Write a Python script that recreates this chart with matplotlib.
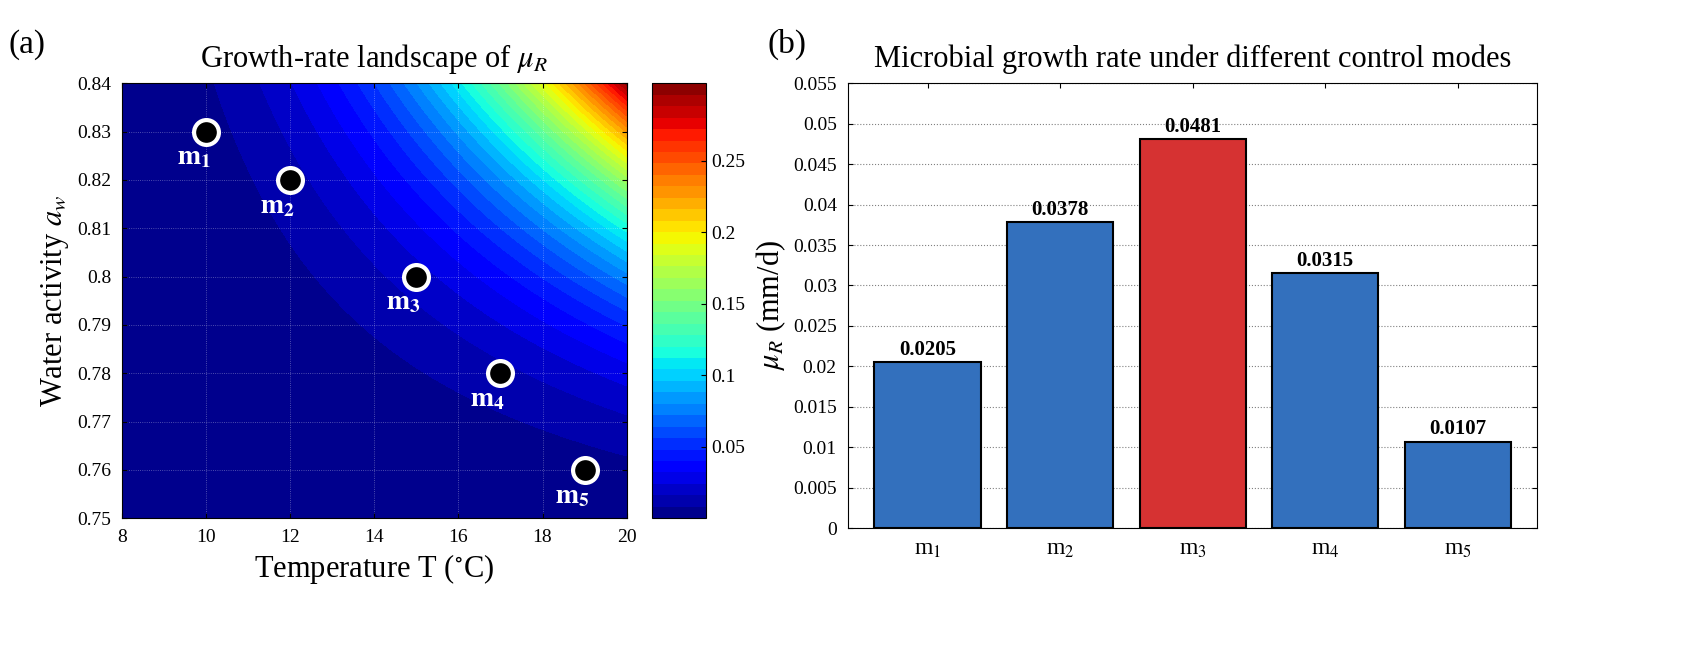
import numpy as np
import matplotlib
matplotlib.use("Agg")
import matplotlib.pyplot as plt

plt.rcParams['font.family'] = ['Liberation Serif', 'DejaVu Serif']
plt.rcParams['mathtext.fontset'] = 'stix'

# operating points
point_T = [10, 12, 15, 17, 19]
point_aw = [0.83, 0.82, 0.80, 0.78, 0.76]
modes = ['m$_1$', 'm$_2$', 'm$_3$', 'm$_4$', 'm$_5$']
growth = [0.0205, 0.0378, 0.0481, 0.0315, 0.0107]
bar_colors = ['#3370bd', '#3370bd', '#d63232', '#3370bd', '#3370bd']

# growth-rate surface
T = np.linspace(8, 20, 300)
aw = np.linspace(0.75, 0.84, 300)
TT, AA = np.meshgrid(T, aw)
mu = 0.082 * ((TT - 6) * (AA - 0.73)) ** 3

fig = plt.figure(figsize=(16.98, 6.56), dpi=100)
ax1 = fig.add_axes([0.072, 0.210, 0.297, 0.663])
cax = fig.add_axes([0.384, 0.210, 0.032, 0.663])
ax2 = fig.add_axes([0.4994, 0.195, 0.406, 0.678])

cs = ax1.contourf(TT, AA, mu, levels=45, cmap='jet')
ax1.grid(True, color='white', linestyle=':', linewidth=0.6, alpha=0.4)
ax1.scatter(point_T, point_aw, s=320, c='black', edgecolors='white', linewidths=3, zorder=5)
for t, a, i in zip(point_T, point_aw, range(1, 6)):
    ax1.text(t - 0.3, a - 0.0055, '$\\mathbf{m}_{\\mathbf{%d}}$' % i, color='white', fontsize=20,
             ha='center', va='center', zorder=6)
ax1.set_xlim(8, 20)
ax1.set_ylim(0.75, 0.84)
ax1.set_xticks(np.arange(8, 21, 2))
ax1.set_yticks(np.arange(0.75, 0.8401, 0.01))
ax1.set_yticklabels(['0.75', '0.76', '0.77', '0.78', '0.79', '0.8', '0.81', '0.82', '0.83', '0.84'])
ax1.tick_params(labelsize=14, direction='in', top=True, right=True, pad=8)
ax1.set_xlabel('Temperature T ($^{\\circ}$C)', fontsize=22)
ax1.set_ylabel('Water activity $a_w$', fontsize=22)
ax1.set_title('Growth-rate landscape of $\\mu_R$', fontsize=22, pad=12)
fig.text(0.005, 0.92, '(a)', fontsize=24)

cb = fig.colorbar(cs, cax=cax)
cb.set_ticks([0.05, 0.1, 0.15, 0.2, 0.25])
cb.set_ticklabels(['0.05', '0.1', '0.15', '0.2', '0.25'])
cb.ax.tick_params(labelsize=14, direction='in')

x = np.arange(len(growth))
ax2.bar(x, growth, width=0.8, color=bar_colors, edgecolor='black', linewidth=1.5, zorder=3)
for xi, v in zip(x, growth):
    ax2.text(xi, v + 0.0003, f'{v:.4f}', ha='center', va='bottom', fontsize=15,
             fontweight='bold', zorder=4)
ax2.set_xlim(-0.6, 4.6)
ax2.set_ylim(0, 0.055)
ax2.set_yticks(np.arange(0, 0.05501, 0.005))
ax2.set_yticklabels(['0', '0.005', '0.01', '0.015', '0.02', '0.025', '0.03', '0.035',
                     '0.04', '0.045', '0.05', '0.055'])
ax2.set_xticks(x)
ax2.set_xticklabels(modes)
ax2.yaxis.grid(True, color='gray', linestyle=':', linewidth=0.8, zorder=0)
ax2.tick_params(labelsize=14, direction='in', top=True, right=True, pad=8)
ax2.tick_params(axis='x', labelsize=17)
ax2.set_ylabel('$\\mu_R$ (mm/d)', fontsize=22)
ax2.set_title('Microbial growth rate under different control modes', fontsize=22, pad=12)
fig.text(0.452, 0.92, '(b)', fontsize=24)

fig.savefig('out.png', dpi=100)
